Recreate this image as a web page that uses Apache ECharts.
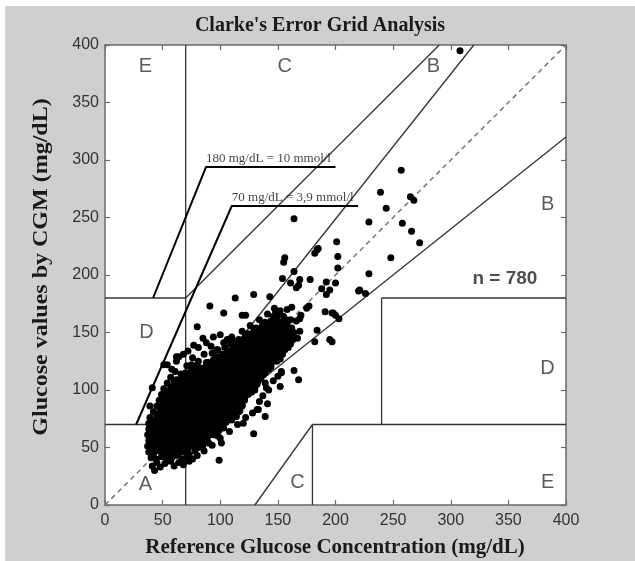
<!DOCTYPE html>
<html>
<head>
<meta charset="utf-8">
<script src="https://cdn.jsdelivr.net/npm/echarts@6/dist/echarts.min.js"></script>
<style>
html,body{margin:0;padding:0;background:#ffffff;}
#chart{position:absolute;left:5px;top:6px;width:630px;height:555px;}
</style>
</head>
<body>
<div id="chart"></div>
<script>
// ---------- data ----------
const chartTitle = "Clarke's Error Grid Analysis";
const xName = "Reference Glucose Concentration (mg/dL)";
const yName = "Glucose values by CGM (mg/dL)";
const axisMin = 0, axisMax = 400, axisStep = 50;

// dense cloud of (reference, CGM) pairs
const cloudPoints = [
[43,30],[41,34],[45,37],[48,33],[52,36],[57,38],[60,34],[64,37],[68,35],[73,38],
[40,41],[44,40],[49,42],[53,40],[58,41],[62,43],[67,40],[71,42],[76,40],
[38,46],[42,44],[47,47],[51,45],[56,44],[60,47],[64,45],[69,46],[73,44],[78,47],
[37,51],[41,49],[46,50],[50,52],[55,49],[59,51],[63,50],[68,52],[72,49],[77,51],[81,50],[85,52],
[38,56],[42,54],[47,55],[51,57],[55,54],[60,56],[64,55],[68,57],[73,54],[77,56],[81,55],[86,57],[90,54],
[37,61],[41,59],[46,60],[50,62],[54,59],[59,61],[63,60],[67,62],[72,59],[76,61],[80,60],[85,62],[89,59],[94,61],[98,60],
[38,66],[42,64],[47,65],[51,67],[56,64],[60,66],[64,65],[69,67],[73,64],[77,66],[82,65],[86,67],[90,64],[95,66],[99,65],[103,67],
[38,71],[43,69],[47,70],[52,72],[56,69],[61,71],[65,70],[69,72],[74,69],[78,71],[82,70],[87,72],[91,69],[96,71],[100,70],[105,72],
[39,76],[44,74],[49,75],[53,77],[57,74],[62,76],[66,75],[70,77],[75,74],[79,76],[83,75],[88,77],[92,74],[97,76],[101,75],[106,77],[110,74],
[42,81],[47,79],[51,80],[55,82],[60,79],[64,81],[68,80],[73,82],[77,79],[81,81],[86,80],[90,82],[94,79],[99,81],[103,80],[108,82],[112,79],[116,81],
[45,86],[50,84],[54,85],[58,87],[63,84],[67,86],[71,85],[76,87],[80,84],[84,86],[89,85],[93,87],[97,84],[102,86],[106,85],[110,87],[115,84],[119,86],
[47,91],[52,89],[56,90],[61,92],[65,89],[69,91],[74,90],[78,92],[82,89],[87,91],[91,90],[95,92],[100,89],[104,91],[108,90],[113,92],[117,89],[121,91],
[49,96],[54,94],[58,95],[63,97],[67,94],[71,96],[76,95],[80,97],[84,94],[89,96],[93,95],[97,97],[102,94],[106,96],[110,95],[115,97],[119,94],[124,96],
[51,101],[56,99],[60,100],[65,102],[69,99],[73,101],[78,100],[82,102],[86,99],[91,101],[95,100],[99,102],[104,99],[108,101],[112,100],[117,102],[121,99],[126,101],[130,100],
[54,106],[59,104],[63,105],[68,107],[72,104],[76,106],[81,105],[85,107],[89,104],[94,106],[98,105],[102,107],[107,104],[111,106],[115,105],[120,107],[124,104],[129,106],[132,105],
[57,111],[62,109],[66,110],[71,112],[75,109],[79,111],[84,110],[88,112],[92,109],[97,111],[101,110],[105,112],[110,109],[114,111],[118,110],[123,112],[127,109],[131,111],[135,110],
[66,114],[70,115],[75,117],[79,114],[83,116],[88,115],[92,117],[96,114],[101,116],[105,115],[109,117],[114,114],[118,116],[122,115],[127,117],[131,114],[135,116],[139,115],
[75,120],[80,122],[84,119],[88,121],[93,120],[97,122],[101,119],[106,121],[110,120],[114,122],[119,119],[123,121],[127,120],[132,122],[136,119],[140,121],[144,120],
[81,125],[90,124],[94,126],[99,125],[103,127],[107,124],[112,126],[116,125],[120,127],[125,124],[129,126],[133,125],[138,127],[142,124],[146,126],[149,125],
[93,132],[98,129],[102,131],[106,130],[111,132],[115,129],[119,131],[124,130],[128,132],[132,129],[137,131],[141,130],[145,132],[150,129],[154,131],
[98,135],[104,137],[108,134],[112,136],[117,135],[121,137],[125,134],[130,136],[134,135],[138,137],[143,134],[147,136],[151,135],[156,137],
[109,140],[114,142],[118,139],[122,141],[127,140],[131,142],[135,139],[140,141],[144,140],[148,142],[153,139],[157,141],[161,140],
[116,144],[121,145],[125,147],[129,144],[134,146],[138,145],[142,147],[147,144],[151,146],[155,145],[160,147],[163,144],
[119,151],[124,149],[129,150],[134,152],[139,149],[143,151],[147,150],[152,152],[156,149],[160,151],[164,150],
[126,156],[131,154],[136,155],[141,157],[145,154],[149,156],[154,155],[158,157],[162,154],
[134,161],[139,159],[144,160],[149,162],[153,159],[157,161],
[141,166],[146,164],[151,166],[155,164],
[147,171],[152,169]
];

// overlapping points in the dense core
const corePoints = [
[44,48],[49,47],[54,48],[58,49],[63,47],[67,48],[71,49],
[40,53],[44,52],[49,53],[53,54],[58,52],[62,53],[66,54],[71,52],[75,53],[80,54],
[40,58],[44,57],[49,58],[53,59],[57,57],[62,58],[66,59],[70,57],[75,58],[79,59],[83,57],[88,58],
[40,63],[44,62],[49,63],[53,64],[58,62],[62,63],[66,64],[71,62],[75,63],[79,64],[84,62],[88,63],[92,64],[97,62],
[40,68],[45,67],[49,68],[54,69],[58,67],[63,68],[67,69],[71,67],[76,68],[80,69],[84,67],[89,68],[93,69],[98,67],[102,68],
[41,73],[46,72],[50,73],[55,74],[59,72],[63,73],[68,74],[72,72],[76,73],[81,74],[85,72],[90,73],[94,74],[99,72],[103,73],[107,74],
[45,78],[49,77],[53,78],[58,79],[62,77],[66,78],[71,79],[75,77],[79,78],[84,79],[88,77],[92,78],[97,79],[101,77],[105,78],[110,79],[114,77],
[48,83],[52,82],[57,83],[61,84],[65,82],[70,83],[74,84],[78,82],[83,83],[87,84],[91,82],[96,83],[100,84],[104,82],[109,83],[113,84],[117,82],
[50,88],[54,87],[59,88],[63,89],[67,87],[72,88],[76,89],[80,87],[85,88],[89,89],[93,87],[98,88],[102,89],[106,87],[111,88],[115,89],[119,87],
[52,93],[56,92],[61,93],[65,94],[69,92],[74,93],[78,94],[82,92],[87,93],[91,94],[95,92],[100,93],[104,94],[108,92],[113,93],[117,94],[121,92],
[54,98],[58,97],[63,98],[67,99],[71,97],[76,98],[80,99],[84,97],[89,98],[93,99],[97,97],[102,98],[106,99],[110,97],[115,98],[119,99],[123,97],[127,98],
[57,103],[61,102],[66,103],[70,104],[74,102],[79,103],[83,104],[87,102],[92,103],[96,104],[100,102],[105,103],[109,104],[113,102],[118,103],[122,104],[126,102],[130,103],
[60,108],[64,107],[69,108],[73,109],[77,107],[82,108],[86,109],[90,107],[95,108],[99,109],[103,107],[108,108],[112,109],[116,107],[121,108],[125,109],[129,107],[133,108],
[68,112],[73,113],[77,114],[81,112],[86,113],[90,114],[94,112],[99,113],[103,114],[107,112],[112,113],[116,114],[120,112],[125,113],[129,114],[133,112],[137,113],
[78,118],[82,119],[86,117],[91,118],[95,119],[99,117],[104,118],[108,119],[112,117],[117,118],[121,119],[125,117],[130,118],[134,119],[138,117],[142,118],
[88,124],[92,122],[96,123],[101,124],[105,122],[109,123],[114,124],[118,122],[122,123],[127,124],[131,122],[135,123],[140,124],[144,122],
[96,129],[100,127],[104,128],[109,129],[113,127],[117,128],[122,129],[126,127],[130,128],[135,129],[139,127],[143,128],[148,129],[152,127],
[106,134],[110,132],[114,133],[119,134],[123,132],[127,133],[132,134],[136,132],[140,133],[145,134],[149,132],[153,133],
[111,138],[116,139],[120,137],[124,138],[129,139],[133,137],[137,138],[142,139],[146,137],[150,138],[155,139],[159,137],
[118,142],[123,143],[127,144],[132,142],[136,143],[140,144],[145,142],[149,143],[153,144],[158,142],[162,143],
[122,148],[127,147],[132,148],[136,149],[141,147],[145,148],[150,149],[154,147],[158,148],[162,149],
[129,153],[134,152],[139,153],[143,154],[147,152],[152,153],[156,154],[160,152],
[137,158],[142,157],[147,158],[151,159],[155,157]
];

// ragged edge points around the cloud
const fringePoints = [
[58,118],[62,125],[68,131],[72,134],[81,137],[88,141],[94,146],[85,145],[61,116],[71,121],[76,128],
[86,131],[92,138],[103,141],[110,146],[97,135],
[137,95],[142,100],[146,108],[150,112],[141,88],[134,90],[128,80],[122,76],[115,70],[108,64],[100,58],[93,52],[86,47],[80,43],
[158,170],[162,172],[166,160],[170,165],[167,145]
];

// scattered points outside the dense cloud
const sparsePoints = [
[308,395],[257,291],[239,272],[265,268],[268,265],[244,258],[229,246],[258,245],[266,238],[273,228],
[201,229],[202,216],[248,215],[202,206],[229,201],
[164,249],[184,222],[182,219],[156,215],[155,211],[154,197],[178,196],[169,196],[168,191],[166,189],
[192,194],[200,193],[188,188],[195,187],[192,183],[129,183],[113,180],[143,181],[221,187],[226,184],
[91,173],[103,167],[119,165],[122,165],[80,155],[64,129],[54,122],[41,102],[39,86],
[164,117],[168,109],[153,115],[169,162],[184,152],[195,144],[197,142],[203,162],[198,167],[177,173],
[161,193],[164,203],[151,158],[148,168],[150,167],[175,171],[191,168],[197,167],[200,165],[161,161],
[169,151],[182,142],[156,135],[153,116],[152,103],[139,106],[140,102],[132,83],[139,77],[129,62],
[101,54],[99,39],[120,71],[133,83],[100,148],[110,145],[106,144],[77,139],[62,129],[51,122],[75,122],[75,119],
[220,186],[185,223]
];

// zone boundary segments
const zoneSegments = [
[[0,70],[58.33,70]],
[[58.33,70],[320,400]],
[[70,84],[70,400]],
[[0,180],[70,180]],
[[70,180],[290,400]],
[[70,0],[70,58.33]],
[[70,56],[400,320]],
[[180,0],[180,70]],
[[180,70],[400,70]],
[[240,70],[240,180]],
[[240,180],[400,180]],
[[130,0],[180,70]]
];
const identityLine = [[0,0],[400,400]];

// annotation brackets
const bracket180 = [[41.7,180],[87.7,294],[200,294]];
const bracket70 = [[27,70],[110,260],[219.5,260]];
const annotationTexts = [[88,294,'180 mg/dL = 10 mmol/l'],[110.5,260,'70 mg/dL = 3,9 mmol/l']];

// zone letters
const zoneLabels = [
[35,381,'E'],[156,381,'C'],[285,381,'B'],
[384,261,'B'],[36,150,'D'],[384,119,'D'],
[35,18,'A'],[167,20,'C'],[384,20,'E']
];
const countLabel = [[347,197,'n = 780']];

// ---------- chart ----------
const chart = echarts.init(document.getElementById('chart'));
const axisColor = '#6a6a6a';
const lineColor = '#333333';

function mkX(pos) {
  return {
    type:'value', min:axisMin, max:axisMax, interval:axisStep, position:pos,
    axisLine:{show:true, onZero:false, lineStyle:{color:axisColor, width:1.5}},
    axisTick:{show:true, inside:true, length:5, lineStyle:{color:axisColor, width:1.2}},
    splitLine:{show:false},
    axisLabel:{show:pos === 'bottom', fontSize:16, color:'#333', margin:8, fontFamily:'Liberation Sans'}
  };
}
function mkY(pos) {
  return {
    type:'value', min:axisMin, max:axisMax, interval:axisStep, position:pos,
    axisLine:{show:true, onZero:false, lineStyle:{color:axisColor, width:1.5}},
    axisTick:{show:true, inside:true, length:5, lineStyle:{color:axisColor, width:1.2}},
    splitLine:{show:false},
    axisLabel:{show:pos === 'left', fontSize:16, color:'#333', margin:6, fontFamily:'Liberation Sans'}
  };
}

const series = [];
series.push({
  type:'line', data:identityLine, showSymbol:false, silent:true, z:2,
  lineStyle:{color:'#777777', width:1.5, type:[5,4]}
});
zoneSegments.forEach(seg => series.push({
  type:'line', data:seg, showSymbol:false, silent:true, z:2,
  lineStyle:{color:lineColor, width:1.3}
}));
[bracket180, bracket70].forEach(b => series.push({
  type:'line', data:b, showSymbol:false, silent:true, z:3,
  lineStyle:{color:'#000', width:2}
}));
series.push({
  type:'scatter', data:cloudPoints.concat(corePoints, fringePoints, sparsePoints), symbol:'circle', symbolSize:7, z:5,
  itemStyle:{color:'#000', opacity:1}
});
series.push({
  type:'scatter', data:annotationTexts, symbolSize:1, z:6, silent:true,
  itemStyle:{color:'transparent'},
  label:{show:true, position:[0,-1], align:'left', verticalAlign:'bottom',
    formatter:p=>p.value[2], fontFamily:'Liberation Serif', fontSize:13, color:'#111'}
});
series.push({
  type:'scatter', data:zoneLabels, symbolSize:1, z:6, silent:true,
  itemStyle:{color:'transparent'},
  label:{show:true, position:'inside', align:'center', verticalAlign:'middle',
    formatter:p=>p.value[2], fontFamily:'Liberation Sans', fontSize:20, color:'#333'}
});
series.push({
  type:'scatter', data:countLabel, symbolSize:1, z:6, silent:true,
  itemStyle:{color:'transparent'},
  label:{show:true, position:'inside', align:'center', verticalAlign:'middle',
    formatter:p=>p.value[2], fontFamily:'Liberation Sans', fontWeight:'bold', fontSize:19, color:'#222'}
});

chart.setOption({
  animation:false,
  backgroundColor:'#cfcfcf',
  title:{text:chartTitle, left:'center', top:5,
    textStyle:{fontFamily:'Liberation Serif', fontWeight:'bold', fontSize:20, color:'#1a1a1a'}},
  grid:{left:100, top:39, width:461, height:460, show:true, backgroundColor:'#ffffff', borderWidth:0,
    containLabel:false, outerBoundsMode:'none'},
  xAxis:[mkX('bottom'), mkX('top')],
  yAxis:[mkY('left'), mkY('right')],
  graphic:[{
    type:'text', x:37, y:261, rotation:Math.PI/2, scaleX:1.2, silent:true,
    style:{text:yName, font:'bold 20px "Liberation Serif"', fill:'#1a1a1a', align:'center', verticalAlign:'middle'}
  },{
    type:'text', x:330, y:542, silent:true,
    style:{text:xName, font:'bold 21px "Liberation Serif"', fill:'#1a1a1a', align:'center', verticalAlign:'middle'}
  }],
  series: series
});
</script>
</body>
</html>
